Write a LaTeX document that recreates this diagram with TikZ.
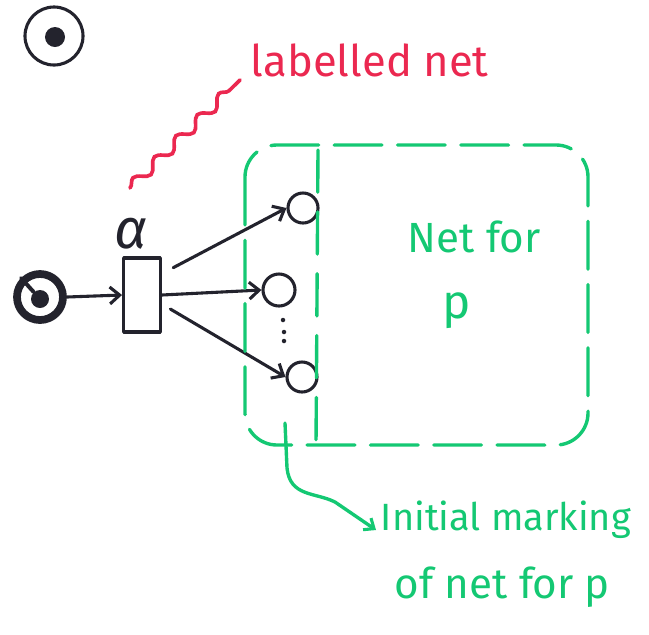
\documentclass[tikz,border=0pt]{standalone}
\usepackage{fontspec}
\setmainfont{Fira Sans}
\usetikzlibrary{arrows.meta,decorations.pathmorphing}
\definecolor{inkblack}{RGB}{35,35,45}
\definecolor{inkred}{RGB}{235,40,80}
\definecolor{inkgreen}{RGB}{20,200,115}
\tikzset{
  ink/.style={draw=inkblack, line width=2.2pt, line cap=round, line join=round},
  place/.style={ink, circle, inner sep=0pt},
  token/.style={circle, fill=inkblack, inner sep=0pt},
  dot/.style={circle, fill=inkblack, inner sep=0pt, minimum size=3.2pt},
  trans/.style={ink, rectangle, inner sep=0pt, minimum width=0.92cm, minimum height=1.85cm},
  arc/.style={ink, -{Straight Barb[length=7pt,width=12pt,line width=2.2pt]}},
  greendash/.style={draw=inkgreen, line width=2.4pt, line cap=round, dash pattern=on 34pt off 11pt},
  greenpen/.style={draw=inkgreen, line width=2.4pt, line cap=round, line join=round},
  redtext/.style={text=inkred, font=\fontsize{31}{34}\selectfont},
  greentext/.style={text=inkgreen, font=\fontsize{30}{34}\selectfont},
}
\begin{document}
\begin{tikzpicture}[x=0.025cm,y=-0.025cm]
\useasboundingbox (0,0) rectangle (649,634);

% marked place in the corner
\node[place, minimum width=1.3cm, minimum height=1.45cm] (cornerplace) at (54,36) {};
\node[token, minimum width=0.42cm, minimum height=0.5cm] (cornertoken) at (55,37) {};

% red annotation
\node[redtext, anchor=base west] (lbl) at (246,76) {labelled net};
\coordinate (squigstart) at (130,188);
\coordinate (squigend) at (240,80);
\draw[draw=inkred, line width=2.6pt, line cap=round,
      decorate, decoration={snake, amplitude=1.3mm, segment length=7.5mm}]
  (squigstart) -- (squigend);

% initial place, transition alpha and output places
\node[place, line width=5.5pt, minimum size=1.15cm] (start) at (40,297) {};
\node[token, minimum size=0.45cm] (starttok) at (40,299) {};
\draw[ink, line width=2.8pt] (starttok) -- (start.north west);
\node[trans] (alpha) at (142,295) {};
\node[text=inkblack, font=\itshape\fontsize{40}{40}\selectfont] (alphalbl) at (131,234) {α};

\node[place, minimum width=0.6cm, minimum height=0.75cm] (p1) at (303,208) {};
\node[place, minimum width=0.6cm, minimum height=0.8cm] (p2) at (279,290) {};
\node[place, minimum width=0.6cm, minimum height=0.75cm] (p3) at (302,377) {};
\node[dot] (dot1) at (283,320) {};
\node[dot] (dot2) at (284,332) {};
\node[dot] (dot3) at (284,341) {};

\draw[arc] (start.east) -- (alpha.west);
\draw[arc] ([xshift=8pt,yshift=-8pt]alpha.north east) -- (p1.west);
\draw[arc] (alpha.east) -- (p2.west);
\draw[arc] ([xshift=6pt,yshift=-10pt]alpha.east) -- (p3.west);

% net for p: outer dashed boundary and the divider of its initial places
\coordinate (boxnw) at (245,145);
\coordinate (boxse) at (588,445);
\draw[greendash, rounded corners=0.8cm] (boxnw) rectangle (boxse);
\coordinate (divtop) at (318,150);
\coordinate (divbot) at (316,445);
\draw[greendash, dash pattern=on 30pt off 14pt] (divtop) -- (divbot);

\node[greentext, anchor=base west] (netfor) at (403,252) {Net for};
\node[greentext, anchor=base west, font=\fontsize{34}{34}\selectfont] (pname) at (438,318) {p};

% callout for the initial marking
\node[greentext, anchor=base west, font=\fontsize{27}{30}\selectfont] (initm) at (376,530) {Initial marking};
\node[greentext, anchor=base west, font=\fontsize{30}{34}\selectfont] (ofnet) at (390,598) {of net for p};
\coordinate (calltop) at (285,423);
\draw[greenpen, -{Straight Barb[length=6pt,width=10pt,line width=2.2pt]}]
  (calltop) -- (287,468) .. controls (290,497) and (315,492) .. (335,502) -- (initm.base west);
\end{tikzpicture}
\end{document}
